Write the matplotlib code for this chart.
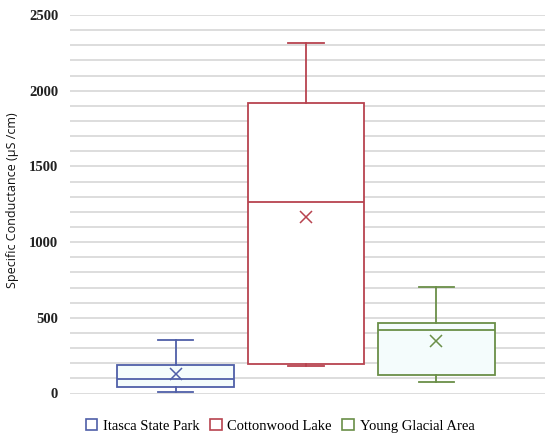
import matplotlib.pyplot as plt
import numpy as np

# data (µS/cm)
sites = ['Itasca State Park', 'Cottonwood Lake', 'Young Glacial Area']
whislo = [13, 180, 73]
q1 = [45, 192, 121]
med = [97, 1264, 418]
q3 = [187, 1921, 468]
whishi = [356, 2313, 706]
means = [126, 1166, 346]
colors = ['#4f5fa8', '#b8434f', '#6a8f48']
fills = ['#f4fcfc', '#ffffff', '#f4fcfc']

stats = []
for i in range(len(sites)):
    stats.append(dict(label=sites[i], whislo=whislo[i], q1=q1[i], med=med[i],
                      q3=q3[i], whishi=whishi[i], mean=means[i]))

fig = plt.figure(figsize=(5.5, 4.41), dpi=100)
ax = fig.add_axes([70 / 550, 1 - 393.5 / 441, 475 / 550, 378.5 / 441])

pos = np.arange(1, len(sites) + 1)
for i in range(len(sites)):
    c = colors[i]
    ax.bxp([stats[i]], positions=[pos[i]], widths=0.897, showmeans=True,
           patch_artist=True, showfliers=False,
           boxprops=dict(facecolor=fills[i], edgecolor=c, linewidth=1.3),
           medianprops=dict(color=c, linewidth=1.3),
           whiskerprops=dict(color=c, linewidth=1.3),
           capprops=dict(color=c, linewidth=1.3),
           capwidths=0.27,
           meanprops=dict(marker='x', markeredgecolor=c, markersize=8,
                          markeredgewidth=1.1))

ax.set_xlim(0.188, 3.835)
ax.set_ylim(0, 2500)
ax.set_yticks(np.arange(0, 2501, 500))
ax.set_yticks(np.arange(0, 2501, 100), minor=True)
ax.grid(axis='y', which='both', color='#dadada', linewidth=1.3, zorder=0)
ax.set_axisbelow(True)
ax.set_xticks([])
ax.tick_params(axis='y', which='both', length=0, pad=8.5)
for lab in ax.get_yticklabels():
    lab.set_fontfamily('Liberation Serif')
    lab.set_fontweight('bold')
    lab.set_fontsize(10.5)
    lab.set_color('#222222')
for s in ax.spines.values():
    s.set_visible(False)

fig.text(13 / 550, 1 - 200 / 441, 'Specific Conductance (µS /cm)', rotation=90,
         ha='center', va='center', fontsize=9, family='Open Sans', color='#111111')

handles = [plt.Rectangle((0, 0), 1, 1, facecolor='white', edgecolor=c, linewidth=1.2)
           for c in colors]
fig.legend(handles, sites, loc='center', bbox_to_anchor=(280 / 550, 1 - 426 / 441),
           ncol=3, frameon=False, prop=dict(family='Liberation Serif', size=10.5),
           handlelength=0.8, handleheight=0.8, handletextpad=0.4, columnspacing=0.7)

fig.savefig('out.png', dpi=100)
